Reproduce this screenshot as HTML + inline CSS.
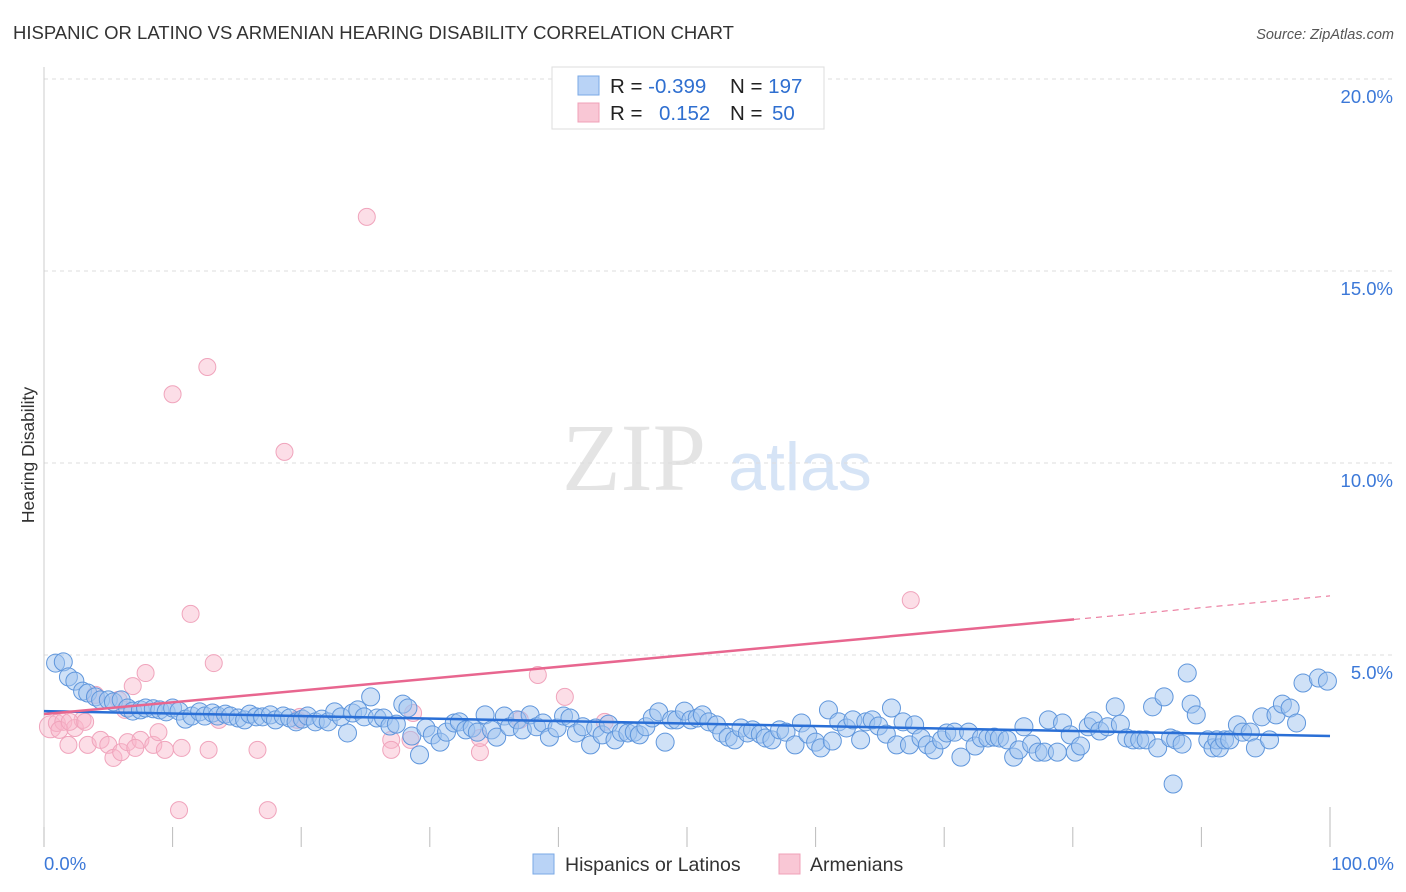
<!DOCTYPE html>
<html><head><meta charset="utf-8"><style>
body{margin:0;background:#fff;font-family:"Liberation Sans",sans-serif}
svg{display:block}
</style></head><body>
<svg id="c" width="1406" height="892" xmlns="http://www.w3.org/2000/svg">
<text x="13" y="39" font-size="18.5" fill="#333">HISPANIC OR LATINO VS ARMENIAN HEARING DISABILITY CORRELATION CHART</text>
<text x="1394" y="39" font-size="14.5" fill="#555" font-style="italic" text-anchor="end">Source: ZipAtlas.com</text>
<text x="634" y="490" font-size="96" fill="#e4e4e4" font-family="Liberation Serif,serif" text-anchor="middle">ZIP</text>
<text x="800" y="490" font-size="68" fill="#d6e4f6" text-anchor="middle">atlas</text>
<text transform="translate(34,455) rotate(-90)" font-size="17.5" fill="#333" text-anchor="middle">Hearing Disability</text>
<g id="grid"></g><g id="pts"></g><g id="lines"></g>
<g>
<rect x="552" y="67" width="272" height="62" fill="#fff" stroke="#ddd"/>
<rect x="578" y="76" width="21" height="19" fill="#b9d3f6" stroke="#7aa8e6"/>
<rect x="578" y="103" width="21" height="19" fill="#f9c7d5" stroke="#f0a0b8"/>
<text x="610" y="93" font-size="20.5" fill="#222">R = <tspan fill="#2f6fd0">-0.399</tspan><tspan x="730">N = </tspan><tspan fill="#2f6fd0">197</tspan></text>
<text x="610" y="120" font-size="20.5" fill="#222">R = <tspan x="659" fill="#2f6fd0">0.152</tspan><tspan x="730">N = </tspan><tspan x="772" fill="#2f6fd0">50</tspan></text>
</g>
<g>
<rect x="533" y="854" width="21" height="20" fill="#b9d3f6" stroke="#7aa8e6"/>
<text x="565" y="871" font-size="19.5" fill="#333">Hispanics or Latinos</text>
<rect x="779" y="854" width="21" height="20" fill="#f9c7d5" stroke="#f0a0b8"/>
<text x="810" y="871" font-size="19.5" fill="#333">Armenians</text>
</g>
</svg>
<script>
const yTicks=[5,10,15,20];
const yTickLabels=["5.0%","10.0%","15.0%","20.0%"];
const xTickVals=[0,10,20,30,40,50,60,70,80,90,100];
const blueX=[0.9,1.5,1.9,2.4,3.0,3.4,4.0,4.4,5.0,5.4,6.0,6.5,6.9,7.5,7.9,8.5,9.0,9.5,10.0,10.5,11.0,11.5,12.1,12.5,13.1,13.5,14.1,14.5,15.1,15.6,16.0,16.5,17.0,17.6,18.0,18.6,19.1,19.6,20.1,20.5,21.1,21.6,22.1,22.6,23.1,23.6,24.0,24.4,24.9,25.4,25.9,26.4,26.9,27.4,27.9,28.3,28.6,29.2,29.7,30.2,30.8,31.3,31.9,32.3,32.8,33.3,33.7,34.3,34.8,35.2,35.8,36.2,36.8,37.2,37.8,38.3,38.8,39.3,39.9,40.4,40.9,41.4,41.9,42.5,42.9,43.4,43.9,44.4,44.9,45.4,45.9,46.3,46.8,47.3,47.8,48.3,48.8,49.2,49.8,50.3,50.8,51.2,51.7,52.3,52.7,53.2,53.7,54.2,54.7,55.1,55.7,56.1,56.6,57.2,57.7,58.4,58.9,59.4,60.0,60.4,61.0,61.3,61.8,62.4,62.9,63.5,63.9,64.4,64.9,65.5,65.9,66.3,66.8,67.3,67.7,68.2,68.7,69.2,69.8,70.2,70.8,71.3,71.9,72.4,72.9,73.4,73.9,74.3,74.9,75.4,75.8,76.2,76.8,77.3,77.8,78.1,78.8,79.2,79.8,80.2,80.6,81.2,81.6,82.1,82.7,83.3,83.7,84.2,84.7,85.2,85.7,86.2,86.6,87.1,87.6,87.8,88.0,88.5,88.9,89.2,89.6,90.5,90.9,91.2,91.4,91.8,92.2,92.8,93.2,93.8,94.2,94.7,95.3,95.8,96.3,96.9,97.4,97.9,99.1,99.8];
const blueY=[4.79,4.82,4.43,4.32,4.06,4.01,3.91,3.83,3.83,3.78,3.83,3.62,3.54,3.57,3.62,3.60,3.57,3.52,3.62,3.54,3.33,3.41,3.52,3.41,3.49,3.41,3.46,3.41,3.36,3.31,3.46,3.39,3.39,3.44,3.31,3.41,3.36,3.26,3.33,3.41,3.26,3.33,3.26,3.52,3.39,2.97,3.49,3.57,3.39,3.91,3.36,3.36,3.15,3.20,3.72,3.62,2.89,2.40,3.10,2.92,2.73,2.99,3.23,3.26,3.05,3.10,2.99,3.44,3.05,2.86,3.41,3.13,3.31,3.05,3.44,3.13,3.23,2.86,3.10,3.41,3.36,2.97,3.13,2.66,3.10,2.92,3.20,2.79,2.99,2.97,2.99,2.92,3.13,3.36,3.52,2.73,3.31,3.31,3.54,3.31,3.36,3.44,3.26,3.18,2.97,2.86,2.79,3.10,2.97,3.05,2.94,2.84,2.79,3.05,2.99,2.66,3.23,2.94,2.73,2.58,3.57,2.76,3.26,3.10,3.31,2.79,3.26,3.31,3.15,2.94,3.62,2.66,3.26,2.66,3.18,2.84,2.66,2.53,2.79,2.97,2.99,2.34,2.99,2.63,2.84,2.84,2.86,2.84,2.79,2.34,2.53,3.13,2.68,2.47,2.47,3.31,2.47,3.23,2.92,2.47,2.63,3.13,3.28,3.02,3.13,3.65,3.20,2.84,2.79,2.79,2.79,3.65,2.58,3.91,2.84,1.64,2.79,2.68,4.53,3.72,3.44,2.79,2.58,2.79,2.58,2.79,2.79,3.18,2.99,2.99,2.58,3.39,2.79,3.44,3.72,3.62,3.23,4.27,4.40,4.32];
const pinkX=[0.5,1.0,1.5,1.9,2.4,3.0,3.4,4.0,4.4,5.0,5.4,6.0,6.5,6.9,7.5,7.9,8.5,8.9,9.4,10.0,10.5,10.7,11.4,12.7,12.8,13.2,13.6,16.6,17.4,18.7,19.7,25.1,27.0,27.0,28.7,33.9,37.0,38.4,40.5,43.6,67.4,1.2,2.0,3.2,5.8,6.3,7.1,19.9,28.5,33.9];
const pinkY=[3.13,3.23,3.26,2.66,3.10,3.31,2.66,3.96,2.79,2.66,2.32,2.47,2.73,4.19,2.79,4.53,2.66,2.99,2.53,11.79,0.96,2.58,6.07,12.5,2.53,4.79,3.31,2.53,0.96,10.29,3.31,16.41,2.79,2.53,3.49,2.47,3.31,4.48,3.91,3.26,6.43,3.05,3.26,3.26,3.83,3.57,2.58,3.39,2.79,2.84];
const blueTrend=[3.54,2.89];
const pinkTrend=[3.46,6.54];
const pinkSolidEnd=80.1;

const NS="http://www.w3.org/2000/svg";
const X0=44,X1=1330,Y0=847,PY=38.4;
const sx=v=>X0+(X1-X0)*v/100, sy=v=>Y0-v*PY;
function mk(t,a,p){const e=document.createElementNS(NS,t);for(const k in a)e.setAttribute(k,a[k]);p.appendChild(e);return e;}
const grid=document.getElementById('grid');
yTicks.forEach((t,i)=>{
 const l=mk('line',{x1:X0,x2:1394,y1:sy(t),y2:sy(t),stroke:'#ddd','stroke-dasharray':'4,4'},grid);
 
 
 const tx=mk('text',{x:1393,y:sy(t)+24,'font-size':18.5,fill:'#3b78d8','text-anchor':'end'},grid);
 tx.textContent=yTickLabels[i];
 
 
});
const ax=mk('line',{x1:X0,x2:X0,y1:67,y2:Y0,stroke:'#ccc'},grid);


xTickVals.forEach((t,i)=>{
 const tk=mk('line',{x1:sx(t),x2:sx(t),y1:(i==xTickVals.length-1?807:827),y2:Y0,stroke:'#bbb'},grid);
 
 
});
[[0,"0.0%","start",44],[100,"100.0%","end",1394]].forEach(d=>{
 const tx=mk('text',{x:d[3],y:870,'font-size':18.5,fill:'#3b78d8','text-anchor':d[2]},grid);
 tx.textContent=d[1];
 
 
});
const pts=document.getElementById('pts');
pinkX.forEach((x,i)=>{
 const c=mk('circle',{cx:sx(x),cy:sy(pinkY[i]),r:i==0?11:8.5,fill:'rgba(248,182,202,0.45)',stroke:'#f0a4bc','stroke-width':1},pts);
 
 
});
blueX.forEach((x,i)=>{
 const c=mk('circle',{cx:sx(x),cy:sy(blueY[i]),r:9,fill:'rgba(160,196,240,0.5)',stroke:'#5f96dc','stroke-width':1},pts);
 
 
});
const lines=document.getElementById('lines');
const pAt=v=>pinkTrend[0]+(pinkTrend[1]-pinkTrend[0])*v/100;
const bl=mk('line',{x1:sx(0),y1:sy(blueTrend[0]),x2:sx(100),y2:sy(blueTrend[1]),stroke:'#2a6fd6','stroke-width':2.5},lines);


const pl=mk('line',{x1:sx(0),y1:sy(pAt(0)),x2:sx(pinkSolidEnd),y2:sy(pAt(pinkSolidEnd)),stroke:'#e8668f','stroke-width':2.5},lines);


const pd=mk('line',{x1:sx(pinkSolidEnd),y1:sy(pAt(pinkSolidEnd)),x2:sx(100),y2:sy(pAt(100)),stroke:'#e8668f','stroke-width':1,'stroke-dasharray':'6,5'},lines);


</script>
</body></html>
